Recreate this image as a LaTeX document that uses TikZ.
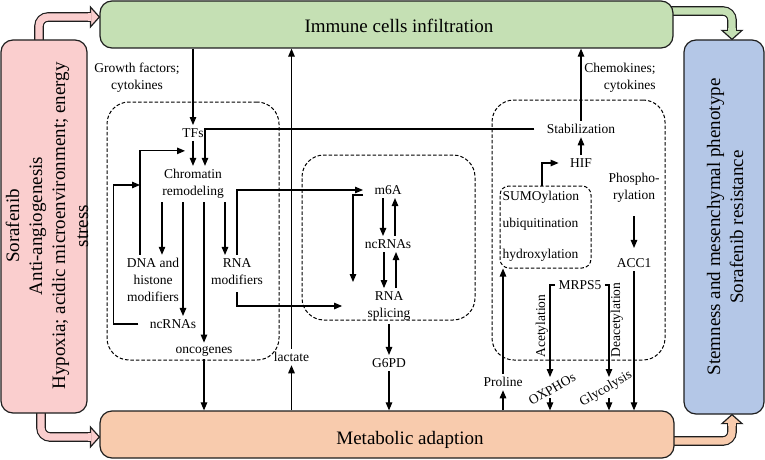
\documentclass[tikz,border=0pt]{standalone}
\usepackage{fontspec}
\setmainfont{Liberation Serif}
\usetikzlibrary{arrows.meta,calc,backgrounds}
\definecolor{pinkc}{RGB}{250,206,206}
\definecolor{greenc}{RGB}{197,224,180}
\definecolor{orangec}{RGB}{248,203,173}
\definecolor{bluec}{RGB}{180,199,231}
\definecolor{edgec}{RGB}{30,30,30}
\begin{document}
\begin{tikzpicture}[x=1pt,y=-1pt,
  bigbox/.style={draw=edgec, line width=1.2pt, rounded corners=12pt, inner sep=0pt},
  dbox/.style={draw=black, dash pattern=on 3.5pt off 2pt, line width=1pt, rounded corners=22pt, inner sep=0pt},
  lbl/.style={font=\fontsize{13.5}{17}\selectfont, inner sep=1.5pt, outer sep=2pt, align=center},
  rlbl/.style={lbl, inner sep=0pt, outer sep=0pt},
  big/.style={font=\fontsize{19}{23}\selectfont, inner sep=0pt},
  arr/.style={-{Triangle[length=8pt,width=6.5pt]}, line width=1.1pt, draw=black},
]
\useasboundingbox (0,0) rectangle (765,460);

% main boxes
\node[bigbox, fill=pinkc, minimum width=86pt, minimum height=373pt] (sor) at (44,226.5) {};
\node[bigbox, fill=greenc, minimum width=573pt, minimum height=47pt] (imm) at (386.5,24.5) {};
\node[bigbox, fill=orangec, minimum width=574pt, minimum height=47pt] (met) at (387,434.5) {};
\node[bigbox, fill=bluec, minimum width=80pt, minimum height=374pt] (stem) at (724,227) {};

\node[big] (immt) at (399,26) {Immune cells infiltration};
\node[big] (mett) at (410,440) {Metabolic adaption};
\node[big, rotate=90, align=center] (sort) at (47,226) {Sorafenib\\Anti-angiogenesis\\Hypoxia; acidic microenvironment; energy\\stress};
\node[big, rotate=90, align=center] (stemt) at (725,227) {Stemness and mesenchymal phenotype\\Sorafenib resistance};

% dashed groups
\node[dbox, minimum width=172pt, minimum height=258pt] (dl) at (193,231) {};
\node[dbox, minimum width=173pt, minimum height=165pt] (dm) at (388.5,237.5) {};
\node[dbox, minimum width=173pt, minimum height=260pt] (dr) at (578.5,230) {};
\node[dbox, rounded corners=9pt, minimum width=91pt, minimum height=82pt] (sbox) at (545.5,227) {};

% labels
\node[lbl] (gf) at (137,78) {Growth factors;\\cytokines};
\node[lbl, align=right, anchor=east] (chem) at (659,78) {Chemokines;\\cytokines};
\node[lbl] (tfs) at (193,133) {TFs};
\node[lbl] (chrom) at (193,184) {Chromatin\\remodeling};
\node[lbl] (dna) at (153,280) {DNA and\\histone\\modifiers};
\node[lbl] (rnam) at (237,271.5) {RNA\\modifiers};
\node[lbl] (ncl) at (173,324) {ncRNAs};
\node[lbl] (onc) at (204,351) {oncogenes};
\node[lbl] (lac) at (291.5,357) {lactate};
\node[lbl] (m6a) at (388,190) {m6A};
\node[lbl] (ncm) at (388,244) {ncRNAs};
\node[lbl] (spl) at (389,306) {RNA\\splicing};
\node[lbl] (g6pd) at (389,363) {G6PD};
\node[lbl] (stab) at (581,129) {Stabilization};
\node[lbl] (hif) at (581,163) {HIF};
\node[lbl, anchor=west] (sumo) at (499,197) {SUMOylation};
\node[lbl, anchor=west] (ubi) at (499,224) {ubiquitination};
\node[lbl, anchor=west] (hyd) at (499,255) {hydroxylation};
\node[lbl] (phos) at (634,188) {Phospho-\\rylation};
\node[lbl] (acc) at (634,263) {ACC1};
\node[lbl] (mrps) at (580,285) {MRPS5};
\node[rlbl, rotate=90] (acet) at (542,326) {Acetylation};
\node[rlbl, rotate=90] (deac) at (617,320) {Deacetylation};
\node[rlbl, rotate=30] (ox) at (552,389) {OXPHOs};
\node[rlbl, rotate=30] (gly) at (606,389) {Glycolysis};
\node[lbl] (pro) at (503,382) {Proline};

% free-end coordinates
\coordinate (dnaup) at (140,185);
\coordinate (m6end) at (353,282);
\coordinate (oxin) at (550,377);
\coordinate (oxout) at (550,398);
\coordinate (glyin) at (609,377);
\coordinate (glyout) at (609,398);

% connectors
\draw[arr] (imm.south -| tfs.north) -- (tfs.north);
\draw[arr] (tfs.south) -- (tfs.south |- chrom.north);
\draw[arr] ([xshift=-9pt]stab.west) -| ([xshift=12pt]chrom.north);
\draw[arr] ([xshift=-13pt]dna.north) |- ([xshift=-8pt,yshift=15pt]chrom.north);
\draw[arr] ([xshift=-8pt]ncl.west) -- ++(-25,0) |- (dnaup);
\draw[arr] ([xshift=-31pt]chrom.south) -- ([xshift=9pt]dna.north);
\draw[arr] ([xshift=-10pt]chrom.south) -- ([xshift=10pt]ncl.north);
\draw[arr] ([xshift=11pt]chrom.south) -- (onc.north);
\draw[arr] ([xshift=32pt]chrom.south) -- ([xshift=-12pt]rnam.north);
\draw[arr] (rnam.north) |- ([xshift=-8pt]m6a.west);
\draw[arr] ([yshift=-4pt]rnam.south) |- ([xshift=-22pt]spl.west);
\draw[arr] ([xshift=-8pt,yshift=-5pt]m6a.west) -| (m6end);
\draw[arr] ([xshift=-5pt]m6a.south) -- ([xshift=-5pt]ncm.north);
\draw[arr] ([xshift=7pt]ncm.north) -- ([xshift=7pt]m6a.south);
\draw[arr] ([xshift=-4pt]ncm.south) -- ([xshift=-5pt]spl.north);
\draw[arr] ([xshift=7pt]spl.north) -- ([xshift=8pt]ncm.south);
\draw[arr] (spl.south) -- (g6pd.north);
\draw[arr] (g6pd.south) -- (g6pd.south |- met.north);
\draw[arr] (onc.south) -- (onc.south |- met.north);
\draw[arr] (met.north -| lac.south) -- (lac.south);
\draw[arr] (lac.north) -- (lac.north |- imm.south);
\draw[arr] (stab.north) -- (stab.north |- imm.south);
\draw[arr] (hif.north) -- (stab.south);
\draw[arr] ([xshift=-3.5pt]sbox.north) |- ([xshift=-8pt]hif.west);
\draw[arr] ([yshift=-10pt]phos.south) -- ([yshift=7pt]acc.north);
\draw[arr] (acc.south) -- (acc.south |- met.north);
\draw[arr] (mrps.west) -| (oxin);
\draw[arr] (mrps.east) -| (glyin);
\draw[arr] (oxout) -- (oxout |- met.north);
\draw[arr] (glyout) -- (glyout |- met.north);
\draw[arr] (met.north -| pro.south) -- (pro.south);
\draw[arr] (pro.north) -- (pro.north |- sbox.south);

% block arrows
\begin{scope}[on background layer]
% pink top
\coordinate (p1s) at ([xshift=-5pt,yshift=-6pt]sor.north);
\coordinate (p1t) at ([yshift=7.5pt]imm.west);
\draw[edgec, line width=9.6pt, rounded corners=9pt] (p1s) |- ([xshift=-8pt]p1t);
\draw[pinkc, line width=7.2pt, rounded corners=9pt] (p1s) |- ([xshift=-8pt]p1t);
\filldraw[fill=pinkc, draw=edgec, line width=1.2pt, line join=miter] ([xshift=-9pt,yshift=10pt]p1t) -- (p1t) -- ([xshift=-9pt,yshift=-10pt]p1t) -- cycle;
\draw[pinkc, line width=7.2pt] ([xshift=-11pt]p1t) -- ([xshift=-8pt]p1t);
% pink bottom
\coordinate (p2s) at ([xshift=-3pt,yshift=6pt]sor.south);
\coordinate (p2t) at ([yshift=-2.5pt]met.west);
\draw[edgec, line width=9.6pt, rounded corners=9pt] (p2s) |- ([xshift=-8pt]p2t);
\draw[pinkc, line width=7.2pt, rounded corners=9pt] (p2s) |- ([xshift=-8pt]p2t);
\filldraw[fill=pinkc, draw=edgec, line width=1.2pt, line join=miter] ([xshift=-9pt,yshift=10pt]p2t) -- (p2t) -- ([xshift=-9pt,yshift=-10pt]p2t) -- cycle;
\draw[pinkc, line width=7.2pt] ([xshift=-11pt]p2t) -- ([xshift=-8pt]p2t);
% green
\coordinate (gs) at ([xshift=-6pt,yshift=13.5pt]imm.east);
\coordinate (gt) at ([xshift=8pt]stem.north);
\draw[edgec, line width=9.6pt, rounded corners=9pt] (gs) -| ([yshift=8pt]gt);
\draw[greenc, line width=7.2pt, rounded corners=9pt] (gs) -| ([yshift=8pt]gt);
\filldraw[fill=greenc, draw=edgec, line width=1.2pt, line join=miter] ([xshift=-10pt,yshift=9pt]gt) -- (gt) -- ([xshift=10pt,yshift=9pt]gt) -- cycle;
\draw[greenc, line width=7.2pt] ([yshift=11pt]gt) -- ([yshift=8pt]gt);
% orange
\coordinate (os) at ([xshift=-6pt,yshift=-6.5pt]met.east);
\coordinate (ot) at ([xshift=8pt]stem.south);
\draw[edgec, line width=9.6pt, rounded corners=9pt] (os) -| ([yshift=-8pt]ot);
\draw[orangec, line width=7.2pt, rounded corners=9pt] (os) -| ([yshift=-8pt]ot);
\filldraw[fill=orangec, draw=edgec, line width=1.2pt, line join=miter] ([xshift=-10pt,yshift=-9pt]ot) -- (ot) -- ([xshift=10pt,yshift=-9pt]ot) -- cycle;
\draw[orangec, line width=7.2pt] ([yshift=-11pt]ot) -- ([yshift=-8pt]ot);
\end{scope}
\end{tikzpicture}
\end{document}
